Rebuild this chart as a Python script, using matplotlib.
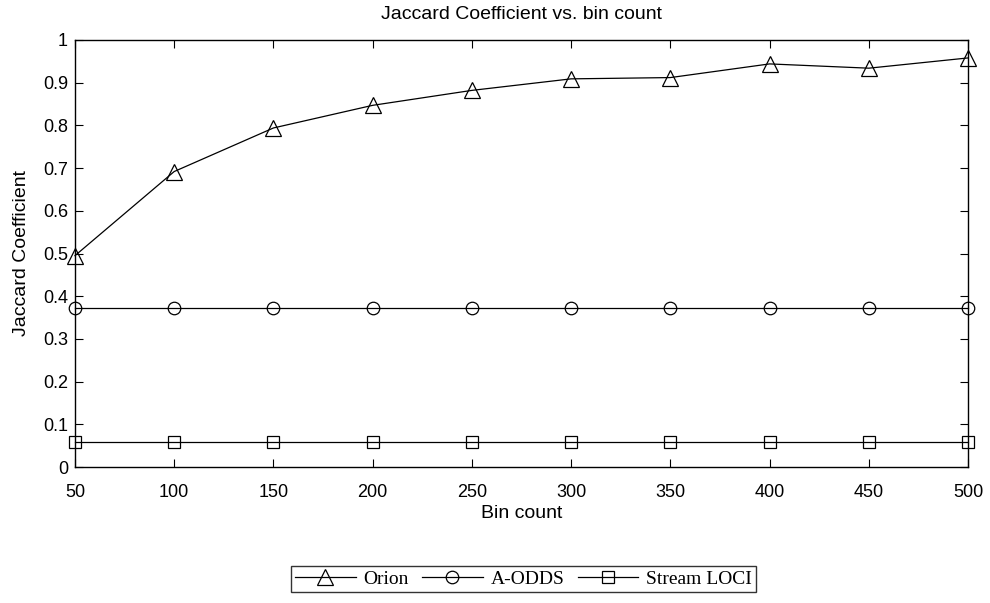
import matplotlib
matplotlib.use("Agg")
import matplotlib.pyplot as plt

bins = [50, 100, 150, 200, 250, 300, 350, 400, 450, 500]
orion = [0.495, 0.692, 0.794, 0.847, 0.882, 0.909, 0.912, 0.944, 0.934, 0.958]
aodds = [0.372] * 10
stream_loci = [0.059] * 10
xticks = [50, 100, 150, 200, 250, 300, 350, 400, 450, 500]
yticks = [0, 0.1, 0.2, 0.3, 0.4, 0.5, 0.6, 0.7, 0.8, 0.9, 1]
ytick_labels = ["0", "0.1", "0.2", "0.3", "0.4", "0.5", "0.6", "0.7", "0.8", "0.9", "1"]

plt.rcParams['font.family'] = ['Liberation Sans', 'DejaVu Sans']
fig = plt.figure(figsize=(9.9, 6.03), dpi=100)
ax = fig.add_axes([75/990, 1-467/603, (968-75)/990, (467-40)/603])

kw = dict(color='black', lw=0.9, markerfacecolor='none', markeredgecolor='black',
          markeredgewidth=0.9, clip_on=False)
ax.plot(bins, orion, marker='^', markersize=11, label='Orion', **kw)
ax.plot(bins, aodds, marker='o', markersize=9, label='A-ODDS', **kw)
ax.plot(bins, stream_loci, marker='s', markersize=9, label='Stream LOCI', **kw)

ax.set_xlim(50, 500)
ax.set_ylim(0, 1)
ax.set_xticks(xticks)
ax.set_yticks(yticks)
ax.set_yticklabels(ytick_labels)
ax.tick_params(direction='in', length=6, width=0.8, top=True, right=True, labelsize=13)
ax.tick_params(axis='x', pad=12)
ax.tick_params(axis='y', pad=5)
for s in ax.spines.values():
    s.set_linewidth(1.0)

ax.set_title('Jaccard Coefficient vs. bin count', fontsize=14, pad=15)
ax.set_xlabel('Bin count', fontsize=14, labelpad=3)
ax.set_ylabel('Jaccard Coefficient', fontsize=14, labelpad=9.5)

leg = fig.legend(loc='center', bbox_to_anchor=(523.5/990, 1-579/603), ncol=3,
                 prop={'family': 'Liberation Serif', 'size': 14},
                 frameon=True, fancybox=False, edgecolor='black',
                 handlelength=3.1, columnspacing=0.7, handletextpad=0.4,
                 borderpad=0.2, borderaxespad=0)
leg.get_frame().set_linewidth(1.0)

fig.savefig('out.png', dpi=100)
